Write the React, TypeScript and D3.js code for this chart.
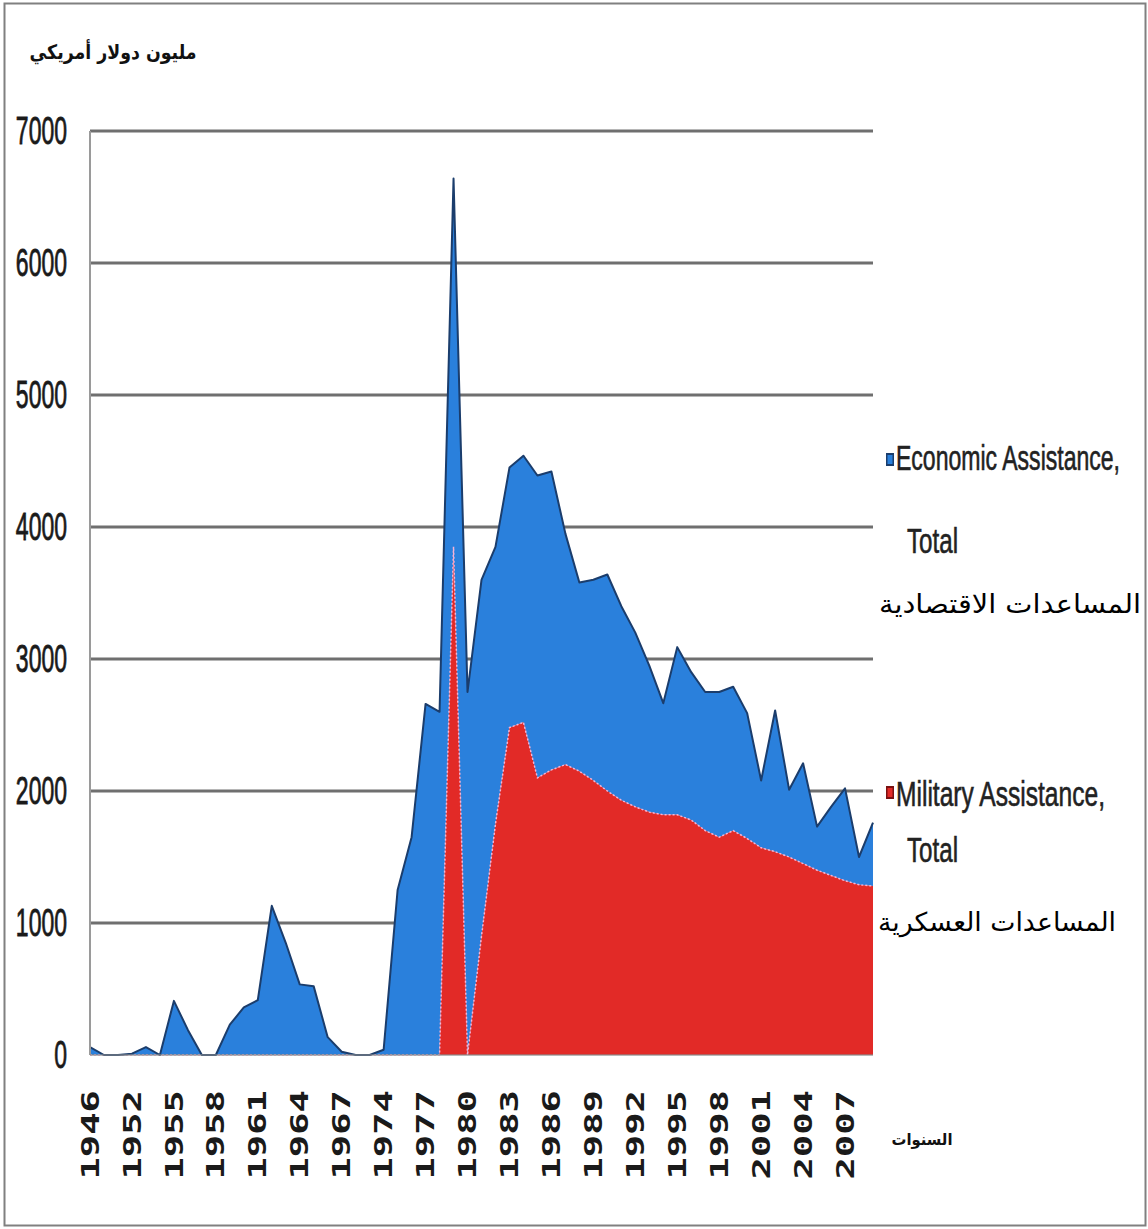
import { useMemo } from 'react';
import * as d3 from 'd3';

// categories as they sit on the axis (some early years are missing in the source)
const YEARS = [
  '1946', '1948', '1950', '1952', '1953', '1954', '1955', '1956', '1957', '1958',
  '1959', '1960', '1961', '1962', '1963', '1964', '1965', '1966', '1967', '1972',
  '1973', '1974', '1975', '1976', '1977', '1978', '1979', '1980', '1981', '1982',
  '1983', '1984', '1985', '1986', '1987', '1988', '1989', '1990', '1991', '1992',
  '1993', '1994', '1995', '1996', '1997', '1998', '1999', '2000', '2001', '2002',
  '2003', '2004', '2005', '2006', '2007', '2008', '2009',
];

// million US$
const MILITARY = [
  0, 0, 0, 0, 0, 0, 0, 0, 0, 0,
  0, 0, 0, 0, 0, 0, 0, 0, 0, 0,
  0, 0, 0, 0, 0, 0, 3850, 0, 900, 1750,
  2480, 2520, 2100, 2160, 2200, 2150, 2080, 2000, 1930, 1880,
  1840, 1820, 1820, 1780, 1700, 1650, 1700, 1640, 1570, 1540,
  1500, 1450, 1400, 1360, 1320, 1290, 1280,
];

const ECONOMIC = [
  60, 0, 0, 10, 60, 0, 410, 190, 0, 0,
  230, 360, 415, 1130, 850, 535, 520, 135, 25, 0,
  0, 40, 1250, 1650, 2660, 2600, 2790, 2750, 2700, 2100,
  1970, 2020, 2290, 2260, 1750, 1430, 1520, 1640, 1470, 1320,
  1110, 845, 1270, 1120, 1050, 1100, 1090, 950, 510, 1070,
  510, 760, 330, 520, 700, 210, 480,
];

const Y_TICKS = [0, 1000, 2000, 3000, 4000, 5000, 6000, 7000];

const W = 1148;
const H = 1229;
const PLOT = { left: 90, right: 873, top: 131, bottom: 1055 };

const BLUE = '#2a80dc';
const BLUE_EDGE = '#1b3d6c';
const RED = '#e22a27';
const GRID = '#6f6f6f';

const ARABIC_FONT = '"DejaVu Sans", sans-serif';
const LATIN_FONT = '"Liberation Sans", Arial, sans-serif';

type Row = { i: number; military: number; economic: number };

export default function App() {
  const { x, y, layers } = useMemo(() => {
    const rows: Row[] = YEARS.map((_, i) => ({ i, military: MILITARY[i], economic: ECONOMIC[i] }));
    const x = d3.scaleLinear().domain([0, YEARS.length - 1]).range([PLOT.left, PLOT.right]);
    const y = d3.scaleLinear().domain([0, 7000]).range([PLOT.bottom, PLOT.top]);
    const layers = d3.stack<Row>().keys(['military', 'economic'])(rows);
    return { x, y, layers };
  }, []);

  const area = d3.area<d3.SeriesPoint<Row>>()
    .x((d) => x(d.data.i))
    .y0((d) => y(d[0]))
    .y1((d) => y(d[1]));
  const topLine = d3.line<d3.SeriesPoint<Row>>()
    .x((d) => x(d.data.i))
    .y((d) => y(d[1]));

  const [milLayer, ecoLayer] = layers;

  return (
    <svg
      width={W}
      height={H}
      style={{ position: 'absolute', left: 0, top: 0, background: 'white' }}
    >
      <rect x={4.5} y={3.5} width={1141} height={1222} fill="white" stroke="#808080" strokeWidth={2} />

      {/* title */}
      <text
        x={113} y={59} fontSize={20} fontWeight={700} fontFamily={ARABIC_FONT}
        textAnchor="middle" fill="#111" textLength={167} lengthAdjust="spacingAndGlyphs"
      >
        مليون دولار أمريكي
      </text>

      {/* gridlines */}
      {Y_TICKS.filter((t) => t > 0).map((t) => (
        <line key={t} x1={PLOT.left} x2={PLOT.right} y1={y(t)} y2={y(t)} stroke={GRID} strokeWidth={3} />
      ))}

      {/* y labels */}
      {Y_TICKS.map((t) => (
        <text
          key={t}
          transform={`translate(67,${y(t) + 13}) scale(1,1.7)`}
          textAnchor="end"
          fontSize={23}
          fontFamily={LATIN_FONT}
          fill="#1a1a1a"
          stroke="#1a1a1a"
          strokeWidth={0.5}
        >
          {t}
        </text>
      ))}

      {/* areas */}
      <path d={area(ecoLayer) ?? ''} fill={BLUE} />
      <path d={area(milLayer) ?? ''} fill={RED} />
      <path d={topLine(milLayer) ?? ''} fill="none" stroke="#f4b3d6" strokeWidth={1.5} strokeDasharray="2 2" />
      <path d={topLine(ecoLayer) ?? ''} fill="none" stroke={BLUE_EDGE} strokeWidth={2} strokeLinejoin="round" />

      {/* axes */}
      <line x1={PLOT.left} x2={PLOT.left} y1={PLOT.top} y2={PLOT.bottom} stroke="#9a9a9a" strokeWidth={2} />
      <line x1={PLOT.left} x2={PLOT.right} y1={PLOT.bottom} y2={PLOT.bottom} stroke="#8a8a8a" strokeWidth={2} opacity={0.6} />

      {/* x labels */}
      {YEARS.map((yr, i) => (i % 3 === 0 ? (
        <text
          key={yr}
          transform={`translate(${x(i)},1090) rotate(-90) scale(1.55,1)`}
          textAnchor="end"
          dy="0.36em"
          fontSize={24}
          fontWeight={700}
          fontFamily='"DejaVu Sans Mono", monospace'
          fill="#1a1a1a"
        >
          {yr}
        </text>
      ) : null))}

      <text x={922} y={1145} fontSize={16} fontWeight={700} fontFamily={ARABIC_FONT} textAnchor="middle" fill="#111"
        textLength={61} lengthAdjust="spacingAndGlyphs">
        السنوات
      </text>

      {/* legend: economic */}
      <rect x={886} y={453} width={8} height={13} fill={BLUE_EDGE} />
      <rect x={887.5} y={455} width={5} height={9} fill={BLUE} />
      <text
        transform="translate(896,470) scale(1,1.5)"
        fontSize={23} fontFamily={LATIN_FONT} fill="#222" stroke="#222" strokeWidth={0.4}
        textLength={224} lengthAdjust="spacingAndGlyphs"
      >
        Economic Assistance,
      </text>
      <text
        transform="translate(907,553) scale(1,1.5)"
        fontSize={23} fontFamily={LATIN_FONT} fill="#222" stroke="#222" strokeWidth={0.4}
        textLength={51} lengthAdjust="spacingAndGlyphs"
      >
        Total
      </text>
      <text
        x={1010} y={613} fontSize={26} fontFamily={ARABIC_FONT} textAnchor="middle" fill="#000"
        textLength={262} lengthAdjust="spacingAndGlyphs"
      >
        المساعدات الاقتصادية
      </text>

      {/* legend: military */}
      <rect x={886} y={786} width={8} height={13} fill="#7a1010" />
      <rect x={887.5} y={788} width={5} height={9} fill={RED} />
      <text
        transform="translate(896,806) scale(1,1.5)"
        fontSize={23} fontFamily={LATIN_FONT} fill="#222" stroke="#222" strokeWidth={0.4}
        textLength={209} lengthAdjust="spacingAndGlyphs"
      >
        Military Assistance,
      </text>
      <text
        transform="translate(907,862) scale(1,1.5)"
        fontSize={23} fontFamily={LATIN_FONT} fill="#222" stroke="#222" strokeWidth={0.4}
        textLength={51} lengthAdjust="spacingAndGlyphs"
      >
        Total
      </text>
      <text
        x={997} y={931} fontSize={26} fontFamily={ARABIC_FONT} textAnchor="middle" fill="#000"
        textLength={238} lengthAdjust="spacingAndGlyphs"
      >
        المساعدات العسكرية
      </text>
    </svg>
  );
}
